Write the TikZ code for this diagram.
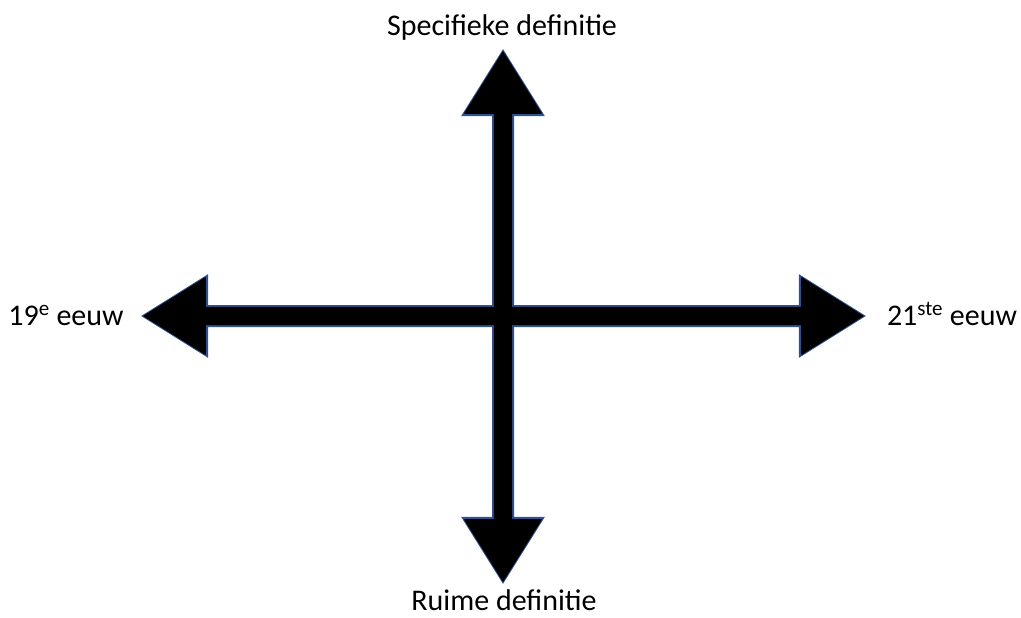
\documentclass[tikz,border=0pt]{standalone}
\usepackage{fontspec}
\setmainfont{Carlito}
\usetikzlibrary{shapes.arrows}
\definecolor{randblauw}{HTML}{2F528F}

\begin{document}
\begin{tikzpicture}[x=1pt,y=-1pt,
	pijl/.style={double arrow, fill=black, inner xsep=0pt, inner ysep=9pt, outer sep=0pt,
		minimum width=78pt, double arrow head extend=30pt, double arrow tip angle=64},
	rand/.style={pijl, draw=randblauw, line width=2pt},
	tekst/.style={font=\fontsize{30}{36}\selectfont, anchor=base}]
	\useasboundingbox (0,0) rectangle (1021,618);
	% eerst de omlijning, dan de zwarte vulling erover
	\node[rand, minimum height=721pt] (eeuw-rand) at (503.5,316) {};
	\node[rand, minimum height=531pt, rotate=90] (def-rand) at (503,316.5) {};
	\node[pijl, minimum height=721pt] (eeuw) at (eeuw-rand) {};
	\node[pijl, minimum height=531pt, rotate=90] (def) at (def-rand) {};
	
	\node[tekst] (boven) at (502,36) {Specifieke definitie};
	\node[tekst] (onder) at (504,610) {Ruime definitie};
	\node[tekst] (links) at (66,325) {19\textsuperscript{e} eeuw};
	\node[tekst] (rechts) at (952,325) {21\textsuperscript{ste} eeuw};
\end{tikzpicture}
\end{document}
